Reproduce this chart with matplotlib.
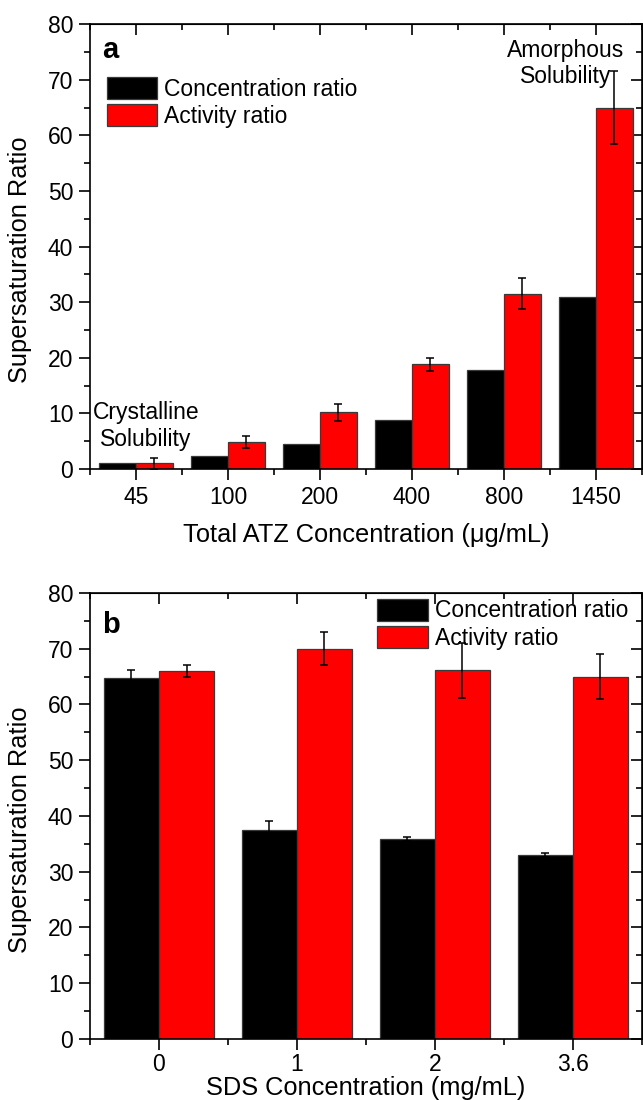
import numpy as np
import matplotlib
matplotlib.use("Agg")
import matplotlib.pyplot as plt

plt.rcParams["font.family"] = ["Liberation Sans", "DejaVu Sans"]

# ---- data ----
atz_conc = ["45", "100", "200", "400", "800", "1450"]
atz_conc_ratio = [1.0, 2.3, 4.5, 8.9, 17.8, 31.0]
atz_act_ratio = [1.0, 4.85, 10.2, 18.8, 31.5, 65.0]
atz_act_err = [1.0, 1.1, 1.5, 1.2, 2.8, 6.5]

sds_conc = ["0", "1", "2", "3.6"]
sds_conc_ratio = [64.8, 37.5, 35.9, 33.0]
sds_conc_err = [1.4, 1.6, 0.4, 0.3]
sds_act_ratio = [66.0, 70.0, 66.1, 65.0]
sds_act_err = [1.0, 3.0, 5.0, 4.0]

W = 0.4
EDGE = "#3a3a3a"
TICK_FS = 16.5
LABEL_FS = 18.3
LEG_FS = 16.5


def style_axes(ax, n, pad=4):
    ax.set_xlim(-0.5, n - 0.5)
    ax.set_ylim(0, 80)
    ax.set_yticks(np.arange(0, 81, 10))
    ax.set_yticks(np.arange(0, 81, 5), minor=True)
    ax.set_xticks(np.arange(n))
    ax.set_xticks(np.arange(n + 1) - 0.5, minor=True)
    for s in ax.spines.values():
        s.set_linewidth(1.2)
    ax.tick_params(which="major", direction="out", length=8, width=1.2,
                   labelsize=TICK_FS, pad=4)
    ax.tick_params(axis="x", which="major", pad=pad)
    ax.tick_params(which="minor", direction="out", length=4, width=1.2)
    ax.tick_params(top=False, right=False, which="both")
    # inward ticks on top and right
    top = ax.secondary_xaxis("top")
    top.set_xticks(np.arange(n))
    top.set_xticks(np.arange(n + 1) - 0.5, minor=True)
    top.tick_params(which="major", direction="in", length=8, width=1.2, labeltop=False)
    top.tick_params(which="minor", direction="in", length=4, width=1.2)
    top.set_xticklabels([])
    right = ax.secondary_yaxis("right")
    right.set_yticks(np.arange(0, 81, 10))
    right.set_yticks(np.arange(0, 81, 5), minor=True)
    right.tick_params(which="major", direction="in", length=8, width=1.2, labelright=False)
    right.tick_params(which="minor", direction="in", length=4, width=1.2)
    right.set_yticklabels([])
    ax.set_ylabel("Supersaturation Ratio", fontsize=18.3)
    ax.yaxis.set_label_coords(-0.105, 0.47)


fig = plt.figure(figsize=(6.43, 11.0), dpi=100)

# ---- panel a ----
ax1 = fig.add_axes([0.140, 0.5736, 0.858, 0.4045])
x1 = np.arange(len(atz_conc))
ax1.bar(x1 - W / 2, atz_conc_ratio, W, color="black", edgecolor=EDGE,
        linewidth=0.9, label="Concentration ratio", zorder=2)
ax1.bar(x1 + W / 2, atz_act_ratio, W, color="#ff0000", edgecolor=EDGE,
        linewidth=0.9, label="Activity ratio", zorder=2)
ax1.errorbar(x1 + W / 2, atz_act_ratio, yerr=atz_act_err, fmt="none",
             ecolor="black", elinewidth=1.1, capsize=2.8, capthick=1.1, zorder=3)
style_axes(ax1, len(atz_conc))
ax1.set_xticklabels(atz_conc)
ax1.set_xlabel("Total ATZ Concentration (\u03bcg/mL)", fontsize=LABEL_FS, labelpad=10)
ax1.text(0.022, 0.924, "a", transform=ax1.transAxes, fontsize=21,
         fontweight="bold", va="baseline", ha="left")
ax1.text(0.11, 7.7, "Crystalline\nSolubility", fontsize=16.5, ha="center",
         va="center", linespacing=1.2)
ax1.text(4.67, 72.9, "Amorphous\nSolubility", fontsize=16.5, ha="center",
         va="center", linespacing=1.2)
ax1.legend(loc="upper left", bbox_to_anchor=(0.005, 0.912), fontsize=LEG_FS,
           frameon=False, handlelength=2.2, handleheight=1.1,
           handletextpad=0.3, labelspacing=0.15, borderaxespad=0.2)

# ---- panel b ----
ax2 = fig.add_axes([0.140, 0.0555, 0.858, 0.4055])
x2 = np.arange(len(sds_conc))
ax2.bar(x2 - W / 2, sds_conc_ratio, W, color="black", edgecolor=EDGE,
        linewidth=0.9, label="Concentration ratio", zorder=2)
ax2.bar(x2 + W / 2, sds_act_ratio, W, color="#ff0000", edgecolor=EDGE,
        linewidth=0.9, label="Activity ratio", zorder=2)
ax2.errorbar(x2 - W / 2, sds_conc_ratio, yerr=sds_conc_err, fmt="none",
             ecolor="black", elinewidth=1.1, capsize=2.8, capthick=1.1, zorder=3)
ax2.errorbar(x2 + W / 2, sds_act_ratio, yerr=sds_act_err, fmt="none",
             ecolor="black", elinewidth=1.1, capsize=2.8, capthick=1.1, zorder=3)
style_axes(ax2, len(sds_conc), pad=2)
ax2.set_xticklabels(sds_conc)
ax2.set_xlabel("SDS Concentration (mg/mL)", fontsize=LABEL_FS, labelpad=0)
ax2.text(0.022, 0.91, "b", transform=ax2.transAxes, fontsize=21,
         fontweight="bold", va="baseline", ha="left")
ax2.legend(loc="upper right", bbox_to_anchor=(1.0, 1.018), fontsize=LEG_FS,
           frameon=False, handlelength=2.2, handleheight=1.1,
           handletextpad=0.3, labelspacing=0.15, borderaxespad=0.2)

fig.savefig("out.png", dpi=100)
